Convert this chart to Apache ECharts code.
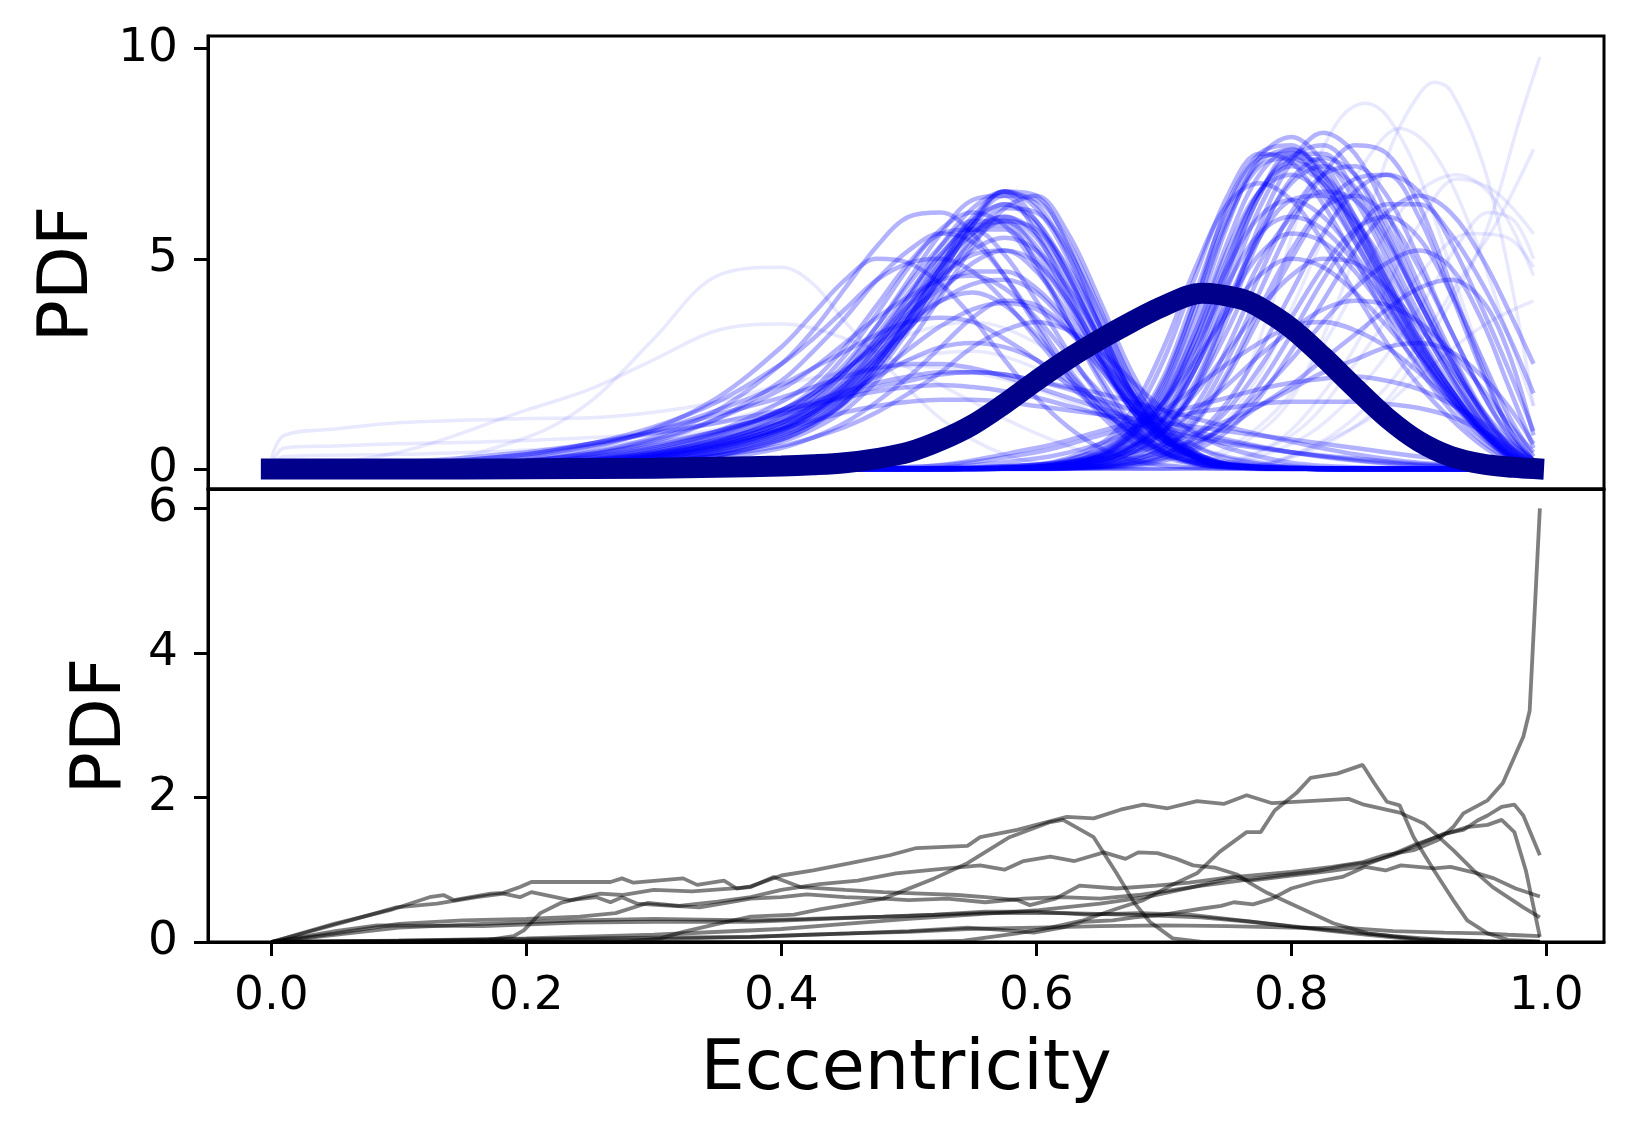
<!DOCTYPE html>
<html>
<head>
<meta charset="utf-8">
<script src="https://cdn.jsdelivr.net/npm/echarts@6/dist/echarts.min.js"></script>
<style>
  html, body { margin: 0; padding: 0; background: #fff; }
  #chart { width: 1633px; height: 1135px; }
</style>
</head>
<body>
<div id="chart"></div>
<script>
// axis ranges / ticks
const xMin = -0.0497, xMax = 1.0453;
const xTicks = [0, 0.2, 0.4, 0.6, 0.8, 1.0];
const topYTicks = [0, 5, 10];
const bottomYTicks = [0, 2, 4, 6];

// top panel: left family of posterior curves, sampled on this x grid
const leftX = [0, 0.1, 0.2, 0.25, 0.3, 0.35, 0.4, 0.425, 0.45, 0.475, 0.5, 0.525, 0.55, 0.575, 0.6, 0.625, 0.65, 0.675, 0.7, 0.725, 0.75, 0.8, 0.85, 0.9, 0.99];
const leftFamily = [
  [0,0.02,0.08,0.15,0.3,0.55,1.0,1.4,2.0,2.9,3.9,5.0,6.0,6.6,6.2,5.0,3.4,1.8,0.8,0.3,0.1,0.02,0,0,0],
  [0,0.02,0.1,0.18,0.35,0.65,1.2,1.7,2.4,3.4,4.5,5.6,6.4,6.5,5.6,4.2,2.7,1.4,0.6,0.2,0.06,0.01,0,0,0],
  [0,0.01,0.05,0.1,0.2,0.4,0.8,1.1,1.6,2.4,3.4,4.6,5.8,6.5,6.4,5.4,3.8,2.1,1.0,0.4,0.12,0.02,0,0,0],
  [0,0.03,0.12,0.22,0.42,0.8,1.4,1.9,2.7,3.7,4.8,5.7,6.1,5.8,4.8,3.5,2.2,1.1,0.45,0.15,0.05,0.01,0,0,0],
  [0,0.01,0.06,0.12,0.25,0.5,0.9,1.3,1.8,2.6,3.6,4.7,5.6,6.0,5.6,4.5,3.1,1.7,0.8,0.3,0.1,0.02,0,0,0],
  [0,0.04,0.15,0.28,0.5,0.9,1.6,2.1,2.9,3.9,4.9,5.6,5.7,5.1,4.0,2.8,1.7,0.9,0.4,0.15,0.05,0.01,0,0,0],
  [0,0.02,0.08,0.15,0.3,0.6,1.1,1.6,2.3,3.2,4.2,5.1,5.7,5.7,5.0,3.9,2.6,1.4,0.65,0.25,0.08,0.01,0,0,0],
  [0,0.01,0.05,0.1,0.2,0.45,0.9,1.3,1.9,2.7,3.6,4.5,5.2,5.5,5.2,4.3,3.1,1.8,0.9,0.35,0.12,0.02,0,0,0],
  [0,0.05,0.2,0.4,0.75,1.4,2.5,3.3,4.3,5.3,6.0,6.1,5.6,4.6,3.4,2.2,1.3,0.65,0.3,0.1,0.04,0,0,0,0],
  [0,0.05,0.18,0.35,0.65,1.2,2.1,2.8,3.6,4.5,5.2,5.6,5.4,4.6,3.5,2.4,1.5,0.8,0.35,0.13,0.05,0.01,0,0,0],
  [0,0.06,0.2,0.38,0.7,1.2,1.9,2.4,3.0,3.6,4.1,4.5,4.6,4.3,3.6,2.7,1.8,1.0,0.5,0.2,0.08,0.02,0,0,0],
  [0,0.08,0.3,0.55,0.9,1.4,2.0,2.4,2.8,3.2,3.5,3.6,3.5,3.1,2.6,2.0,1.4,0.9,0.5,0.25,0.12,0.04,0.01,0,0],
  [0,0.1,0.35,0.6,0.9,1.3,1.7,1.95,2.2,2.4,2.5,2.5,2.4,2.2,1.95,1.7,1.45,1.2,1.0,0.8,0.65,0.4,0.22,0.1,0.02],
  [0,0.05,0.2,0.35,0.6,0.9,1.3,1.5,1.75,1.95,2.1,2.25,2.3,2.25,2.1,1.9,1.65,1.4,1.15,0.9,0.7,0.4,0.2,0.08,0.01],
  [0,0.01,0.03,0.06,0.12,0.25,0.5,0.75,1.1,1.6,2.2,2.9,3.6,4.0,3.9,3.3,2.4,1.5,0.75,0.3,0.1,0.01,0,0,0],
  [0,0.02,0.1,0.2,0.38,0.7,1.25,1.7,2.3,3.1,3.9,4.6,5.1,5.2,4.7,3.7,2.6,1.5,0.7,0.27,0.08,0.01,0,0,0],
  [0,0.01,0.04,0.08,0.16,0.32,0.65,0.95,1.4,2.1,3.0,4.1,5.3,6.2,6.5,5.6,4.0,2.3,1.1,0.4,0.12,0.02,0,0,0],
  [0,0.02,0.09,0.17,0.33,0.62,1.1,1.5,2.1,3.0,4.1,5.3,6.2,6.6,5.9,4.6,3.0,1.6,0.7,0.25,0.07,0.01,0,0,0],
  [0,0.1,0.35,0.6,1.0,1.6,2.5,3.1,3.8,4.5,4.9,5.0,4.7,4.0,3.1,2.2,1.4,0.8,0.4,0.15,0.06,0.01,0,0,0],
  [0,0.03,0.12,0.22,0.4,0.7,1.1,1.4,1.8,2.2,2.6,2.9,3.0,2.9,2.6,2.1,1.6,1.1,0.65,0.35,0.17,0.04,0.01,0,0],
  [0,0.04,0.15,0.3,0.55,0.9,1.35,1.6,1.85,2.05,2.2,2.3,2.3,2.25,2.1,1.95,1.8,1.6,1.4,1.2,1.0,0.65,0.35,0.15,0.02],
  [0,0.03,0.1,0.2,0.35,0.6,0.95,1.15,1.35,1.5,1.6,1.65,1.65,1.6,1.5,1.4,1.3,1.2,1.1,1.0,0.9,0.7,0.5,0.3,0.05],
  [0,0.02,0.07,0.13,0.27,0.5,0.95,1.35,1.9,2.7,3.7,4.8,5.8,6.3,5.9,4.7,3.2,1.8,0.85,0.3,0.1,0.01,0,0,0],
  [0,0.01,0.03,0.07,0.15,0.32,0.7,1.05,1.6,2.5,3.6,4.8,5.8,5.8,4.9,3.5,2.1,1.0,0.4,0.12,0.03,0,0,0,0],
  [0,0.04,0.14,0.27,0.5,0.85,1.4,1.8,2.35,2.95,3.5,4.0,4.2,3.9,3.2,2.3,1.5,0.85,0.4,0.15,0.05,0.01,0,0,0],
  [0,0.01,0.04,0.09,0.18,0.38,0.75,1.1,1.6,2.4,3.4,4.6,5.8,6.6,6.5,5.3,3.5,1.9,0.85,0.3,0.08,0.01,0,0,0],
  [0,0.06,0.25,0.5,0.95,1.7,2.9,3.7,4.5,5.0,4.9,4.4,3.6,2.6,1.7,1.0,0.5,0.22,0.09,0.03,0.01,0,0,0,0],
  [0,0.02,0.07,0.14,0.28,0.55,1.0,1.45,2.05,2.9,3.9,4.9,5.7,6.0,5.5,4.3,2.9,1.6,0.75,0.28,0.08,0.01,0,0,0],
  [0,0.01,0.05,0.1,0.18,0.32,0.55,0.75,1.0,1.35,1.8,2.3,2.9,3.3,3.5,3.3,2.8,2.1,1.4,0.85,0.5,0.15,0.04,0.01,0],
  [0,0.15,0.4,0.6,0.85,1.1,1.4,1.55,1.7,1.85,1.95,2.0,1.95,1.85,1.7,1.5,1.3,1.1,0.9,0.75,0.6,0.4,0.25,0.12,0.02],
  [0,0.02,0.09,0.16,0.32,0.6,1.1,1.55,2.2,3.1,4.1,5.1,5.9,6.3,5.8,4.6,3.1,1.7,0.8,0.3,0.09,0.01,0,0,0],
  [0,0.03,0.11,0.2,0.38,0.72,1.3,1.8,2.5,3.4,4.4,5.3,5.9,5.9,5.2,4.0,2.6,1.4,0.6,0.22,0.07,0.01,0,0,0],
  [0,0.01,0.06,0.11,0.22,0.44,0.85,1.2,1.75,2.55,3.5,4.5,5.4,5.9,5.7,4.8,3.4,1.9,0.9,0.33,0.1,0.01,0,0,0],
  [0,0.02,0.08,0.15,0.29,0.55,1.0,1.35,1.85,2.55,3.35,4.2,4.9,5.2,4.9,4.0,2.8,1.6,0.75,0.28,0.08,0.01,0,0,0],
  [0,0.03,0.1,0.19,0.36,0.66,1.15,1.5,2.0,2.65,3.35,4.0,4.4,4.5,4.2,3.4,2.4,1.4,0.7,0.27,0.09,0.01,0,0,0],
  [0,0.01,0.05,0.1,0.2,0.4,0.8,1.15,1.7,2.5,3.6,4.8,5.9,6.6,6.3,5.1,3.4,1.8,0.8,0.28,0.08,0.01,0,0,0],
  [0,0.02,0.07,0.13,0.26,0.5,0.95,1.35,1.95,2.8,3.8,4.8,5.6,5.9,5.3,4.1,2.7,1.5,0.7,0.25,0.07,0.01,0,0,0],
  [0,0.04,0.13,0.25,0.46,0.82,1.4,1.8,2.35,3.0,3.7,4.3,4.7,4.7,4.3,3.5,2.5,1.5,0.8,0.35,0.13,0.02,0,0,0],
  [0,0.02,0.08,0.15,0.28,0.52,0.92,1.25,1.7,2.25,2.85,3.4,3.8,3.95,3.8,3.3,2.6,1.8,1.1,0.55,0.25,0.04,0,0,0],
  [0,0.01,0.04,0.08,0.16,0.33,0.7,1.05,1.55,2.3,3.3,4.4,5.5,6.2,6.1,5.2,3.7,2.1,1.0,0.38,0.11,0.01,0,0,0]
];

// top panel: right family, sampled on this x grid
const rightX = [0, 0.5, 0.6, 0.65, 0.675, 0.7, 0.725, 0.75, 0.775, 0.8, 0.825, 0.85, 0.875, 0.9, 0.925, 0.95, 0.97, 0.99];
const rightFamily = [
  [0,0,0.05,0.35,0.9,2.0,4.0,6.3,7.5,7.7,6.9,5.8,4.4,3.0,1.9,0.9,0.3,0.05],
  [0,0,0.03,0.2,0.5,1.2,2.6,4.6,6.5,7.5,7.5,6.6,5.2,3.7,2.3,1.1,0.45,0.08],
  [0,0,0.02,0.15,0.4,0.9,2.0,3.8,5.8,7.3,8.0,7.5,6.1,4.4,2.8,1.4,0.6,0.12],
  [0,0,0.05,0.3,0.8,1.7,3.3,5.2,6.6,7.0,6.5,5.4,4.1,2.8,1.7,0.8,0.3,0.05],
  [0,0,0.02,0.1,0.3,0.7,1.5,2.9,4.6,6.1,7.0,7.2,6.5,5.0,3.3,1.8,0.8,0.2],
  [0,0,0.06,0.35,0.8,1.6,2.9,4.4,5.6,6.0,5.7,4.9,3.9,2.8,1.8,0.95,0.4,0.08],
  [0,0,0.08,0.5,1.2,2.6,4.6,6.5,7.5,7.3,6.3,5.0,3.6,2.4,1.4,0.65,0.25,0.04],
  [0,0,0.04,0.2,0.5,1.0,1.8,2.8,3.8,4.6,5.0,4.9,4.3,3.4,2.4,1.4,0.7,0.2],
  [0,0,0.01,0.06,0.15,0.35,0.75,1.4,2.4,3.6,4.8,5.7,6.0,5.5,4.2,2.6,1.3,0.3],
  [0,0.01,0.1,0.3,0.55,0.9,1.4,2.0,2.7,3.3,3.8,4.0,3.9,3.5,2.8,1.9,1.1,0.4],
  [0,0.01,0.1,0.25,0.4,0.6,0.85,1.15,1.5,1.9,2.3,2.6,2.9,3.0,2.8,2.2,1.5,0.6],
  [0,0,0.04,0.25,0.65,1.5,3.1,5.0,6.6,7.2,6.8,5.7,4.3,3.0,1.9,0.95,0.4,0.07],
  [0,0,0.03,0.18,0.5,1.1,2.4,4.3,6.2,7.4,7.7,7.0,5.6,4.0,2.5,1.2,0.5,0.1],
  [0,0,0.01,0.08,0.2,0.5,1.1,2.2,3.6,5.0,6.2,6.9,7.0,6.0,4.2,2.3,1.0,0.2],
  [0,0.01,0.1,0.45,0.9,1.6,2.6,3.7,4.6,5.0,4.8,4.2,3.4,2.5,1.6,0.85,0.35,0.06],
  [0,0.01,0.05,0.15,0.25,0.4,0.65,1.0,1.5,2.0,2.6,3.2,3.8,4.3,4.5,4.0,2.8,0.8],
  [0,0.05,0.4,0.8,1.0,1.2,1.35,1.45,1.55,1.6,1.6,1.6,1.55,1.45,1.25,0.9,0.55,0.15],
  [0,0,0.04,0.25,0.6,1.4,2.9,4.9,6.6,7.3,7.0,6.0,4.6,3.2,2.0,1.0,0.4,0.07],
  [0,0,0.06,0.4,1.0,2.2,4.2,6.2,7.4,7.5,6.7,5.4,4.0,2.7,1.6,0.75,0.28,0.04],
  [0,0,0.03,0.15,0.4,0.9,1.9,3.3,4.9,6.0,6.6,6.4,5.4,4.0,2.6,1.3,0.55,0.12],
  [0,0,0.01,0.05,0.12,0.28,0.6,1.1,1.8,2.6,3.5,4.3,4.9,5.2,4.8,3.5,2.0,0.5],
  [0,0.02,0.25,0.6,0.95,1.4,1.95,2.5,3.0,3.4,3.5,3.3,2.9,2.3,1.6,0.95,0.5,0.12],
  [0,0,0.1,0.6,1.4,2.9,4.8,6.3,6.8,6.4,5.4,4.2,3.0,2.0,1.2,0.55,0.2,0.03],
  [0,0,0.01,0.08,0.25,0.6,1.3,2.6,4.2,5.8,7.0,7.7,7.5,6.3,4.4,2.4,1.0,0.2],
  [0,0.05,0.5,0.9,1.1,1.3,1.5,1.7,1.9,2.05,2.15,2.2,2.1,1.9,1.55,1.1,0.65,0.2],
  [0,0,0.04,0.3,0.8,1.8,3.6,5.8,7.4,7.9,7.3,6.0,4.5,3.1,1.9,0.9,0.35,0.06],
  [0,0,0.04,0.28,0.72,1.6,3.3,5.4,7.0,7.6,7.1,5.9,4.5,3.1,1.9,0.92,0.36,0.06],
  [0,0,0.05,0.32,0.85,1.9,3.8,5.9,7.2,7.4,6.8,5.6,4.2,2.9,1.8,0.85,0.32,0.05],
  [0,0,0.03,0.2,0.55,1.25,2.7,4.7,6.5,7.4,7.3,6.4,5.0,3.5,2.2,1.05,0.42,0.08],
  [0,0,0.02,0.12,0.35,0.85,1.9,3.6,5.5,6.9,7.4,7.0,5.8,4.2,2.7,1.35,0.58,0.12],
  [0,0,0.03,0.2,0.5,1.15,2.4,4.0,5.5,6.4,6.5,5.9,4.8,3.5,2.2,1.1,0.45,0.09],
  [0,0,0.05,0.3,0.75,1.6,3.1,4.8,6.0,6.4,6.0,5.1,3.9,2.7,1.7,0.85,0.35,0.06],
  [0,0,0.02,0.14,0.4,0.95,2.1,3.8,5.6,6.8,7.2,6.7,5.5,4.0,2.6,1.3,0.55,0.11],
  [0,0,0.01,0.07,0.2,0.5,1.15,2.3,3.8,5.2,6.2,6.5,6.0,4.8,3.3,1.8,0.85,0.2],
  [0,0,0.04,0.22,0.55,1.2,2.4,3.9,5.1,5.6,5.4,4.7,3.7,2.7,1.75,0.9,0.38,0.07],
  [0,0,0.06,0.38,0.95,2.1,4.0,6.0,7.3,7.6,7.0,5.7,4.3,2.9,1.75,0.82,0.3,0.05],
  [0,0,0.01,0.05,0.14,0.35,0.8,1.6,2.8,4.2,5.6,6.6,7.0,6.6,5.4,3.8,2.4,0.9],
  [0,0,0.01,0.04,0.1,0.25,0.55,1.1,2.0,3.2,4.5,5.6,6.3,6.3,5.6,4.4,3.2,1.8],
  [0,0,0,0.03,0.08,0.2,0.45,0.9,1.7,2.8,4.0,5.2,6.1,6.5,6.1,5.0,3.8,2.5]
];

// faint outlying curves, as [x, y] points
const outliers = [
  [[0,0],[0.1,0.05],[0.2,0.75],[0.25,1.6],[0.3,3.1],[0.35,4.6],[0.4,4.8],[0.425,4.4],[0.45,3.5],[0.475,2.7],[0.5,1.9],[0.525,1.2],[0.55,0.7],[0.575,0.35],[0.6,0.15],[0.625,0.06],[0.7,0],[0.99,0]],
  [[0,0],[0.1,0.4],[0.2,1.4],[0.25,1.9],[0.3,2.6],[0.35,3.3],[0.4,3.45],[0.425,3.35],[0.45,3.1],[0.475,2.8],[0.5,2.4],[0.525,2.0],[0.55,1.6],[0.575,1.2],[0.6,0.85],[0.625,0.55],[0.65,0.3],[0.675,0.15],[0.7,0.07],[0.75,0],[0.99,0]],
  [[0,0.25],[0.01,0.8],[0.05,0.95],[0.1,1.1],[0.2,1.2],[0.25,1.22],[0.3,1.35],[0.35,1.6],[0.4,2.0],[0.45,2.3],[0.5,2.45],[0.55,2.3],[0.6,1.9],[0.65,1.3],[0.7,0.7],[0.75,0.3],[0.8,0.1],[0.85,0.03],[0.9,0],[0.99,0]],
  [[0,0.1],[0.01,0.5],[0.05,0.55],[0.1,0.6],[0.2,0.68],[0.3,0.85],[0.35,1.1],[0.4,1.6],[0.45,2.4],[0.5,3.2],[0.55,3.5],[0.6,3.0],[0.65,1.9],[0.7,0.9],[0.75,0.3],[0.8,0.08],[0.85,0],[0.99,0]],
  [[0,0.05],[0.01,0.3],[0.1,0.35],[0.2,0.45],[0.3,0.7],[0.4,1.3],[0.45,1.9],[0.5,2.6],[0.55,2.8],[0.6,2.4],[0.65,1.6],[0.7,0.8],[0.75,0.3],[0.8,0.08],[0.85,0],[0.99,0]],
  [[0,0],[0.6,0],[0.7,0.1],[0.75,0.5],[0.8,1.8],[0.83,3.5],[0.86,6.0],[0.88,7.8],[0.9,8.9],[0.912,9.2],[0.925,9.0],[0.95,7.3],[0.97,4.8],[0.99,1.5]],
  [[0,0],[0.6,0],[0.7,0.3],[0.75,1.5],[0.78,3.5],[0.8,5.5],[0.82,7.3],[0.84,8.4],[0.858,8.7],[0.875,8.4],[0.9,7.0],[0.925,4.8],[0.95,2.6],[0.97,1.2],[0.99,0.3]],
  [[0,0],[0.75,0],[0.82,0.5],[0.87,1.5],[0.9,2.7],[0.92,3.7],[0.944,5.0],[0.96,6.3],[0.978,8.2],[0.995,9.8]],
  [[0,0],[0.75,0],[0.82,0.6],[0.87,1.8],[0.9,3.0],[0.93,4.4],[0.96,5.8],[0.99,7.6]],
  [[0,0],[0.7,0],[0.78,0.5],[0.83,2.0],[0.87,4.0],[0.9,5.8],[0.93,6.9],[0.96,6.6],[0.99,5.6]],
  [[0,0],[0.72,0],[0.8,0.6],[0.85,1.8],[0.9,3.8],[0.93,5.3],[0.955,6.1],[0.975,5.9],[0.99,5.0]],
  [[0,0],[0.75,0],[0.85,1.0],[0.9,2.2],[0.95,3.4],[0.99,4.0]],
  [[0,0],[0.65,0],[0.72,0.4],[0.77,2.0],[0.8,3.8],[0.83,5.8],[0.86,7.4],[0.885,8.1],[0.91,7.6],[0.94,5.8],[0.97,3.2],[0.99,1.5]],
  [[0,0],[0.72,0],[0.8,0.8],[0.85,2.5],[0.9,4.6],[0.94,5.6],[0.97,5.5],[0.99,4.8]],
  [[0,0],[0.7,0],[0.78,1.0],[0.83,3.2],[0.87,5.4],[0.9,6.6],[0.93,7.0],[0.96,6.4],[0.99,4.6]]
];

// thick dark curve
const navyX = [0, 0.1, 0.2, 0.3, 0.35, 0.4, 0.425, 0.45, 0.475, 0.5, 0.525, 0.55, 0.575, 0.6, 0.625, 0.65, 0.675, 0.7, 0.73, 0.76, 0.775, 0.8, 0.825, 0.85, 0.875, 0.9, 0.925, 0.95, 0.975, 0.99];
const navyY = [0, 0, 0.005, 0.02, 0.04, 0.07, 0.1, 0.15, 0.25, 0.4, 0.68, 1.05, 1.55, 2.1, 2.62, 3.08, 3.5, 3.88, 4.18, 4.05, 3.85, 3.35, 2.67, 1.93, 1.22, 0.66, 0.3, 0.12, 0.04, 0.01];

// bottom panel: grey curves, [x, y]
const grayA = [[0,0],[0.049,0.25],[0.093,0.44],[0.124,0.62],[0.135,0.65],[0.143,0.58],[0.172,0.67],[0.182,0.68],[0.195,0.76],[0.204,0.83],[0.266,0.83],[0.275,0.88],[0.284,0.82],[0.323,0.88],[0.334,0.79],[0.355,0.85],[0.365,0.74],[0.376,0.77],[0.4,0.92],[0.425,0.99],[0.454,1.09],[0.485,1.2],[0.506,1.3],[0.546,1.33],[0.556,1.45],[0.585,1.55],[0.624,1.73],[0.645,1.71],[0.666,1.83],[0.684,1.9],[0.703,1.85],[0.726,1.95],[0.747,1.91],[0.765,2.03],[0.785,1.92],[0.845,1.98],[0.857,1.9],[0.885,1.79],[0.904,1.64],[0.927,1.27],[0.943,0.99],[0.958,0.76],[0.982,0.48],[0.995,0.34]];
const grayB = [[0,0],[0.062,0.3],[0.098,0.48],[0.13,0.53],[0.161,0.62],[0.182,0.67],[0.195,0.62],[0.204,0.69],[0.234,0.58],[0.255,0.62],[0.266,0.55],[0.275,0.62],[0.287,0.53],[0.305,0.51],[0.336,0.48],[0.376,0.6],[0.4,0.62],[0.42,0.66],[0.45,0.62],[0.48,0.6],[0.5,0.58],[0.53,0.6],[0.56,0.55],[0.59,0.6],[0.62,0.62],[0.65,0.6],[0.68,0.65],[0.7,0.7],[0.73,0.78],[0.76,0.85],[0.79,0.92],[0.82,0.98],[0.84,1.05],[0.86,1.1],[0.88,1.2],[0.9,1.35],[0.92,1.5],[0.935,1.55],[0.946,1.68],[0.954,1.75],[0.965,1.87],[0.975,1.9],[0.982,1.75],[0.995,1.2]];
const grayC = [[0,0],[0.1,0.01],[0.17,0.03],[0.19,0.08],[0.198,0.16],[0.211,0.4],[0.227,0.54],[0.245,0.62],[0.258,0.67],[0.275,0.65],[0.3,0.72],[0.33,0.7],[0.376,0.76],[0.394,0.9],[0.415,0.76],[0.45,0.72],[0.48,0.69],[0.51,0.67],[0.538,0.65],[0.56,0.62],[0.585,0.58],[0.595,0.51],[0.615,0.6],[0.634,0.78],[0.663,0.74],[0.694,0.78],[0.72,0.82],[0.754,0.9],[0.768,0.85],[0.8,0.92],[0.83,0.98],[0.854,1.04],[0.875,1.18],[0.896,1.34],[0.922,1.5],[0.938,1.59],[0.954,1.62],[0.965,1.69],[0.975,1.52],[0.984,0.99],[0.995,0.07]];
const grayD = [[0,0],[0.1,0.01],[0.2,0.02],[0.3,0.04],[0.376,0.07],[0.42,0.1],[0.454,0.12],[0.5,0.15],[0.546,0.2],[0.57,0.17],[0.598,0.13],[0.62,0.2],[0.637,0.28],[0.66,0.3],[0.677,0.34],[0.7,0.38],[0.729,0.46],[0.745,0.5],[0.755,0.55],[0.77,0.52],[0.785,0.6],[0.8,0.74],[0.818,0.83],[0.84,0.9],[0.858,1.04],[0.874,0.99],[0.886,1.06],[0.912,1.02],[0.925,1.04],[0.946,0.95],[0.959,0.88],[0.976,0.74],[0.995,0.63]];
const grayE = [[0,0],[0.3,0],[0.5,0],[0.543,0.02],[0.585,0.12],[0.611,0.2],[0.637,0.3],[0.663,0.46],[0.684,0.58],[0.703,0.76],[0.726,0.95],[0.744,1.25],[0.765,1.52],[0.776,1.52],[0.787,1.82],[0.804,2.06],[0.815,2.27],[0.836,2.33],[0.856,2.45],[0.865,2.2],[0.875,1.94],[0.885,1.89],[0.896,1.45],[0.912,0.99],[0.927,0.58],[0.938,0.3],[0.954,0.12],[0.97,0.03],[0.995,0.01]];
const grayF = [[0,0],[0.2,0],[0.28,0.01],[0.305,0.05],[0.323,0.14],[0.35,0.25],[0.376,0.35],[0.41,0.38],[0.43,0.45],[0.454,0.52],[0.48,0.6],[0.493,0.69],[0.52,0.88],[0.546,1.09],[0.579,1.45],[0.611,1.66],[0.621,1.69],[0.645,1.45],[0.663,0.95],[0.677,0.54],[0.689,0.28],[0.707,0.05],[0.73,0],[0.995,0]];
const grayG = [[0,0],[0.05,0.12],[0.1,0.25],[0.15,0.3],[0.2,0.32],[0.242,0.35],[0.27,0.4],[0.295,0.54],[0.32,0.5],[0.35,0.56],[0.376,0.62],[0.4,0.72],[0.43,0.8],[0.46,0.85],[0.49,0.95],[0.52,1.0],[0.556,1.06],[0.575,1.0],[0.59,1.12],[0.611,1.18],[0.63,1.12],[0.653,1.24],[0.67,1.15],[0.68,1.24],[0.695,1.23],[0.71,1.15],[0.723,1.06],[0.74,1.03],[0.758,0.93],[0.768,0.81],[0.781,0.68],[0.807,0.47],[0.833,0.26],[0.86,0.12],[0.9,0.04],[0.95,0.01],[0.995,0]];
const grayH = [[0,0],[0.05,0.15],[0.083,0.23],[0.166,0.22],[0.239,0.27],[0.3,0.28],[0.376,0.28],[0.45,0.33],[0.5,0.36],[0.559,0.4],[0.624,0.4],[0.689,0.37],[0.729,0.34],[0.768,0.28],[0.807,0.2],[0.86,0.1],[0.9,0.03],[0.95,0.01],[0.995,0]];
const grayJ = [[0,0],[0.06,0.12],[0.1,0.2],[0.166,0.25],[0.24,0.3],[0.3,0.32],[0.376,0.3],[0.42,0.32],[0.48,0.35],[0.52,0.38],[0.56,0.42],[0.6,0.42],[0.64,0.38],[0.68,0.4],[0.72,0.38],[0.76,0.3],[0.8,0.22],[0.84,0.15],[0.88,0.08],[0.92,0.03],[0.96,0.01],[0.995,0]];
const grayL = [[0,0],[0.1,0.02],[0.2,0.04],[0.3,0.06],[0.376,0.07],[0.454,0.12],[0.5,0.14],[0.546,0.18],[0.6,0.2],[0.65,0.22],[0.7,0.23],[0.75,0.22],[0.8,0.2],[0.846,0.19],[0.88,0.15],[0.92,0.13],[0.95,0.12],[0.97,0.1],[0.995,0.08]];
const grayS = [[0,0],[0.1,0.02],[0.2,0.05],[0.3,0.1],[0.4,0.18],[0.45,0.25],[0.5,0.32],[0.55,0.38],[0.602,0.44],[0.65,0.53],[0.686,0.62],[0.72,0.75],[0.757,0.9],[0.8,0.97],[0.832,1.04],[0.855,1.1],[0.873,1.2],[0.896,1.27],[0.915,1.41],[0.927,1.59],[0.935,1.78],[0.954,1.96],[0.966,2.2],[0.975,2.56],[0.982,2.84],[0.987,3.2],[0.995,6.0]];
const grayLines = [grayA, grayB, grayC, grayD, grayE, grayF, grayG, grayH, grayJ, grayL, grayS];

const FONT = '"DejaVu Sans", "Liberation Sans", sans-serif';

function blueSeries(data, alpha, width) {
  return {
    type: 'line', xAxisIndex: 0, yAxisIndex: 0, data: data,
    smooth: 0.35, symbol: 'none', silent: true, z: 2,
    lineStyle: { color: 'rgba(0,0,255,' + alpha + ')', width: width }
  };
}

const series = [];
leftFamily.forEach(c => series.push(blueSeries(leftX.map((x, i) => [x, c[i]]), 0.3, 4.5)));
rightFamily.forEach(c => series.push(blueSeries(rightX.map((x, i) => [x, c[i]]), 0.3, 4.5)));
outliers.forEach(c => series.push(blueSeries(c, 0.09, 3.5)));
series.push({
  type: 'line', xAxisIndex: 0, yAxisIndex: 0,
  data: navyX.map((x, i) => [x, navyY[i]]),
  smooth: 0.35, symbol: 'none', silent: true, z: 5,
  lineStyle: { color: '#00008b', width: 21, cap: 'square' }
});
grayLines.forEach(c => series.push({
  type: 'line', xAxisIndex: 1, yAxisIndex: 1, data: c,
  symbol: 'none', silent: true, z: 3,
  lineStyle: { color: 'rgba(0,0,0,0.5)', width: 3.8 }
}));

function xAxis(gridIndex, labels) {
  return {
    type: 'value', gridIndex: gridIndex, min: xMin, max: xMax,
    splitLine: { show: false },
    axisLine: { show: true, onZero: false, lineStyle: { color: '#000', width: 3 } },
    axisTick: { show: labels, customValues: xTicks, length: 14, lineStyle: { color: '#000', width: 3 } },
    axisLabel: {
      show: labels, customValues: xTicks, margin: 31,
      fontSize: 47, fontFamily: FONT, color: '#000',
      formatter: v => v.toFixed(1)
    }
  };
}
function yAxis(gridIndex, min, max, ticks) {
  return {
    type: 'value', gridIndex: gridIndex, min: min, max: max,
    splitLine: { show: false },
    axisLine: { show: true, onZero: false, lineStyle: { color: '#000', width: 3 } },
    axisTick: { show: true, customValues: ticks, length: 14, lineStyle: { color: '#000', width: 3 } },
    axisLabel: { show: true, customValues: ticks, margin: 30, fontSize: 47, fontFamily: FONT, color: '#000' }
  };
}

const chart = echarts.init(document.getElementById('chart'), null, { renderer: 'canvas' });
chart.setOption({
  animation: false,
  backgroundColor: '#fff',
  grid: [
    { left: 208, top: 36, width: 1396, height: 453, show: true, borderColor: '#000', borderWidth: 3, backgroundColor: 'transparent' },
    { left: 208, top: 489, width: 1396, height: 453, show: true, borderColor: '#000', borderWidth: 3, backgroundColor: 'transparent' }
  ],
  xAxis: [xAxis(0, false), xAxis(1, true)],
  yAxis: [yAxis(0, -0.475, 10.3, topYTicks), yAxis(1, 0, 6.267, bottomYTicks)],
  series: series,
  graphic: [
    { type: 'text', x: 69, y: 274, rotation: Math.PI / 2,
      style: { text: 'PDF', fontSize: 70, fontFamily: FONT, fill: '#000', align: 'center', verticalAlign: 'middle' } },
    { type: 'text', x: 102, y: 726, rotation: Math.PI / 2,
      style: { text: 'PDF', fontSize: 70, fontFamily: FONT, fill: '#000', align: 'center', verticalAlign: 'middle' } },
    { type: 'text', x: 906, y: 1071,
      style: { text: 'Eccentricity', fontSize: 70, fontFamily: FONT, fill: '#000', align: 'center', verticalAlign: 'middle' } }
  ]
});
</script>
</body>
</html>
